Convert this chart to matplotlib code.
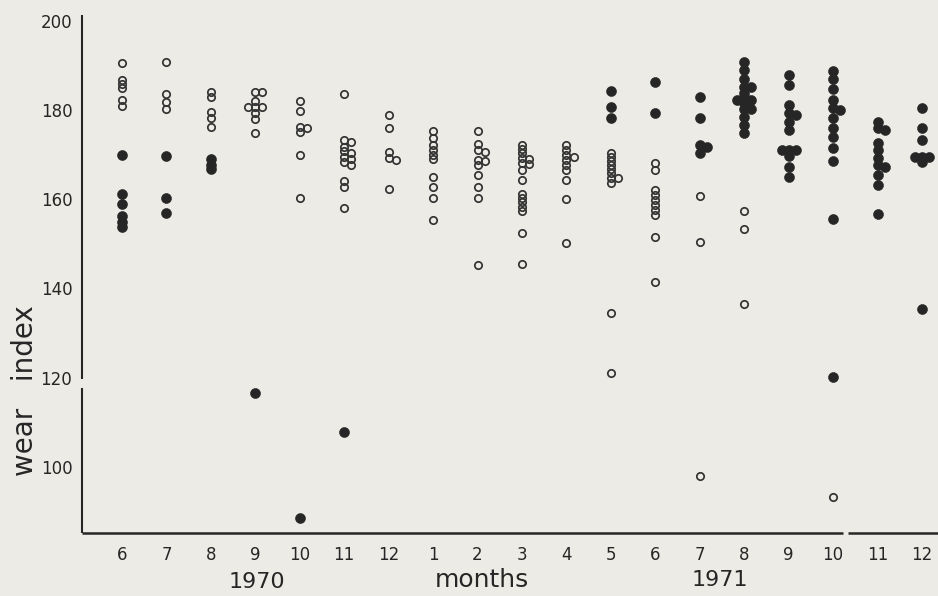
import matplotlib.pyplot as plt

# wear index of individual samples, by month (Jun 1970 .. Dec 1971)
months = [6, 7, 8, 9, 10, 11, 12, 1, 2, 3, 4, 5, 6, 7, 8, 9, 10, 11, 12]

hollow = [
    [190.5, 186.8, 185.8, 184.9, 182.3, 181.0],
    [190.9, 183.6, 181.8, 180.2],
    [184.1, 183.0, 179.5, 178.2, 176.3],
    [184.1, 184.1, 182.0, 180.8, 180.8, 180.8, 179.4, 178.0, 174.9],
    [182.1, 179.8, 176.3, 175.9, 175.2, 169.9, 160.2],
    [183.6, 173.3, 172.9, 171.8, 170.8, 170.5, 169.6, 169.0, 168.4, 167.7, 164.0, 162.7, 158.0],
    [178.9, 176.1, 170.7, 169.3, 168.8, 162.2],
    [175.3, 173.7, 172.2, 171.1, 169.9, 169.0, 165.1, 162.8, 160.4, 155.4],
    [175.3, 172.4, 171.0, 170.6, 168.8, 168.5, 167.7, 165.4, 162.8, 160.4, 145.3],
    [172.2, 171.2, 170.3, 169.2, 169.0, 168.1, 167.9, 166.6, 164.3, 161.3, 160.4, 159.5,
     158.3, 157.4, 152.5, 145.5],
    [172.2, 171.1, 169.9, 169.4, 168.8, 167.7, 166.6, 164.3, 160.0, 150.3],
    [170.5, 169.6, 168.7, 167.7, 166.8, 165.8, 164.7, 164.7, 163.7, 134.4, 121.1],
    [168.1, 166.6, 162.1, 161.0, 159.8, 158.7, 157.6, 156.5, 151.6, 141.5],
    [160.8, 150.5, 97.9],
    [157.4, 153.3, 136.5],
    [],
    [93.1],
    [],
    [],
]

solid = [
    [170.0, 161.2, 158.9, 156.3, 155.0, 153.8],
    [169.8, 160.2, 157.0],
    [169.0, 167.8, 166.7],
    [116.5],
    [88.6],
    [107.7],
    [],
    [],
    [],
    [],
    [],
    [184.4, 180.8, 178.2],
    [186.4, 179.3],
    [182.9, 178.2, 172.2, 171.8, 170.3],
    [190.9, 189.0, 187.1, 185.3, 185.3, 183.8, 183.0, 182.3, 182.3, 181.5, 180.2, 180.2,
     178.5, 176.7, 174.8],
    [187.9, 185.6, 181.2, 179.3, 178.9, 177.4, 175.5, 171.1, 171.1, 171.1, 169.7, 167.3, 164.9],
    [188.8, 186.9, 184.7, 182.3, 180.5, 180.0, 178.2, 176.1, 173.9, 171.4, 168.7, 155.5, 120.1],
    [177.4, 176.0, 175.6, 172.6, 171.1, 169.2, 167.6, 167.2, 165.4, 163.2, 156.7],
    [180.4, 175.9, 173.3, 169.6, 169.6, 169.6, 168.4, 135.3],
]

yticks = [100, 120, 140, 160, 180, 200]

W, H = 938, 596
BG = "#ecebe5"
INK = "#262626"

plt.rcParams["font.family"] = ["DejaVu Sans"]


def dodge(values, placed, step=0.16, tol=0.75):
    # push overlapping points sideways, like the hand-plotted dots
    offs = []
    for v in values:
        for k in (0, 1, -1, 2, -2):
            off = k * step
            if all(abs(v - pv) >= tol for pv, po in placed if abs(po - off) < 1e-9):
                break
        placed.append((v, off))
        offs.append(off)
    return offs


fig = plt.figure(figsize=(W / 100, H / 100), dpi=100, facecolor=BG)
ax = fig.add_axes([82 / W, 1 - 533 / H, (W - 82) / W, (533 - 15) / H])
ax.set_facecolor(BG)

y0, y1 = 85.13, 201.35
x0, x1 = -0.9, 18.36
ax.set_xlim(x0, x1)
ax.set_ylim(y0, y1)

for i in range(len(months)):
    placed = []
    so = dodge(solid[i], placed)
    ho = dodge(hollow[i], placed)
    if solid[i]:
        ax.plot([i + o for o in so], solid[i], "o", ms=7.2, mfc=INK, mec=INK,
                mew=0.4, ls="none", clip_on=False)
    if hollow[i]:
        ax.plot([i + o for o in ho], hollow[i], "o", ms=5.3, mfc="none", mec="#333333",
                mew=1.25, ls="none", clip_on=False)

for s in ax.spines.values():
    s.set_visible(False)

# broken axes lines
ax.plot([x0, x0], [y0, 117.7], color=INK, lw=1.5, clip_on=False, solid_capstyle="butt")
ax.plot([x0, x0], [119.7, y1], color=INK, lw=1.5, clip_on=False, solid_capstyle="butt")
ax.plot([x0, 16.22], [y0, y0], color=INK, lw=1.8, clip_on=False, solid_capstyle="butt")
ax.plot([16.34, x1], [y0, y0], color=INK, lw=1.8, clip_on=False, solid_capstyle="butt")

ax.set_yticks(yticks)
ax.set_yticklabels([str(t) for t in yticks])
ax.set_xticks(range(len(months)))
ax.set_xticklabels([str(m) for m in months])
ax.tick_params(axis="y", length=0, pad=7, labelsize=12, labelcolor=INK)
ax.tick_params(axis="x", length=0, pad=9, labelsize=12, labelcolor=INK)

fig.text(25 / W, 1 - 391 / H, "wear   index", rotation=90, ha="center", va="center",
         fontsize=20, color=INK)
fig.text(257 / W, 1 - 582 / H, "1970", ha="center", va="center", fontsize=16, color=INK)
fig.text(482 / W, 1 - 580 / H, "months", ha="center", va="center", fontsize=18, color=INK)
fig.text(720 / W, 1 - 580 / H, "1971", ha="center", va="center", fontsize=16, color=INK)

fig.savefig("out.png", dpi=100, facecolor=BG)
